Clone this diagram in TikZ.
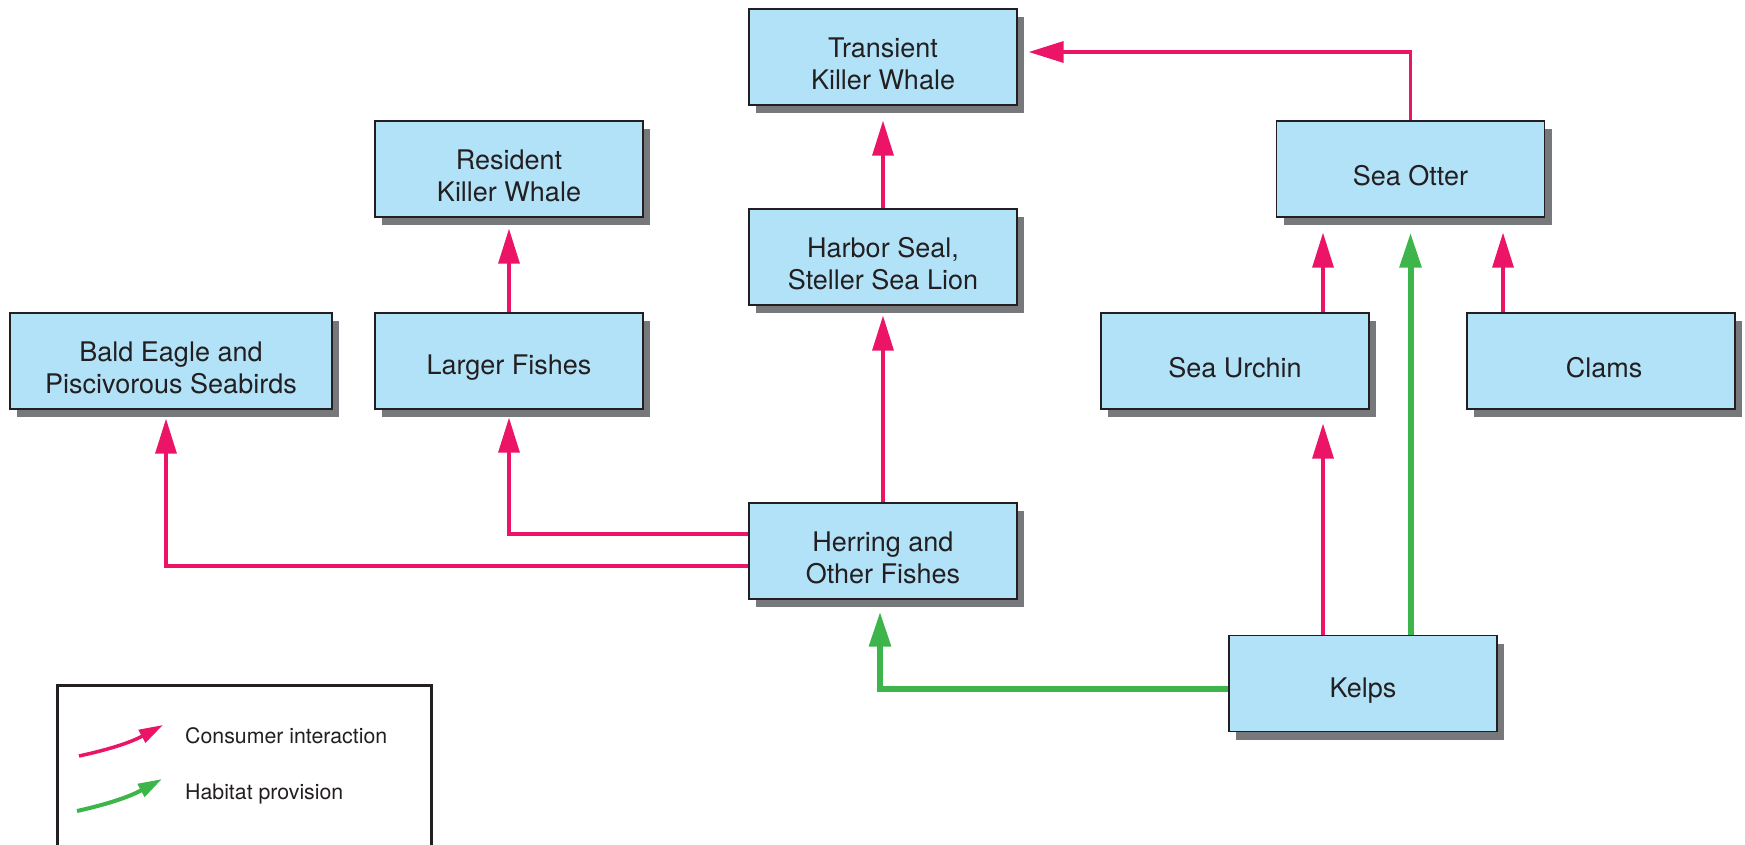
\documentclass[tikz,border=0pt]{standalone}
\usepackage{fontspec}
\setmainfont{TeX Gyre Heros}
\usetikzlibrary{arrows.meta,shadows,calc}

\definecolor{boxfill}{HTML}{B2E2F8}
\definecolor{inkline}{HTML}{231F20}
\definecolor{shadowgray}{HTML}{77787B}
\definecolor{consumer}{HTML}{EC1467}
\definecolor{habitat}{HTML}{3DB54A}

\begin{document}
\begin{tikzpicture}[x=1pt,y=-1pt,
  box/.style={draw=inkline, line width=1.3pt, fill=boxfill,
    minimum width=268pt, minimum height=96pt, inner sep=0pt,
    general shadow={shadow xshift=7pt, shadow yshift=-8pt, fill=shadowgray}},
  boxtext/.style={align=center, text=inkline, yshift=-7pt,
    font=\fontsize{27pt}{32pt}\selectfont},
  cons/.style={draw=consumer, line width=3.3pt,
    -{Triangle[length=35pt,width=21pt]}},
  habit/.style={draw=habitat, line width=6pt,
    -{Triangle[length=35pt,width=21pt]}},
  legtext/.style={anchor=base west, inner sep=0pt, text=inkline,
    font=\fontsize{21.3pt}{25pt}\selectfont},
  legtip/.style={-{Triangle[length=24pt,width=14pt]}}
]
\useasboundingbox (0,0) rectangle (1745,845);

% species boxes
\node[box, label={[boxtext, name=tkwt]center:{Transient\\Killer Whale}}] (tkw) at (883,57) {};
\node[box, label={[boxtext, name=sot]center:{Sea Otter}}] (so) at (1410.5,169) {};
\node[box, label={[boxtext, name=rkwt]center:{Resident\\Killer Whale}}] (rkw) at (509,169) {};
\node[box, label={[boxtext, name=hst]center:{Harbor Seal,\\Steller Sea Lion}}] (hs) at (883,257) {};
\node[box, minimum width=322pt, label={[boxtext, name=bet]center:{Bald Eagle and\\Piscivorous Seabirds}}] (be) at (171,361) {};
\node[box, label={[boxtext, name=lft]center:{Larger Fishes}}] (lf) at (509,361) {};
\node[box, label={[boxtext, name=sut]center:{Sea Urchin}}] (su) at (1235,361) {};
\node[box, label={[boxtext, xshift=3pt, name=clt]center:{Clams}}] (cl) at (1601,361) {};
\node[box, label={[boxtext, name=hft]center:{Herring and\\Other Fishes}}] (hf) at (883,551) {};
\node[box, label={[boxtext, name=ket]center:{Kelps}}] (ke) at (1363,683.5) {};

% consumer interactions
\draw[cons, shorten >=11pt] (so.north) |- ([yshift=5pt]tkw.east);
\draw[cons, shorten >=15pt] (hs.north) -- (tkw.south);
\draw[cons, shorten >=11pt] (lf.north) -- (rkw.south);
\draw[cons, shorten >=10pt] (hf.north) -- (hs.south);
\draw[cons, shorten >=8pt] ([yshift=17pt]hf.west) -| (lf.south);
\draw[cons, shorten >=9pt] ([yshift=-15pt]hf.west) -| ([xshift=-5pt]be.south);
\draw[cons, shorten >=15pt] ([xshift=88pt]su.north) -- ([xshift=88pt]su.north |- so.south);
\draw[cons, shorten >=15pt] ([xshift=-98pt]cl.north) -- ([xshift=-98pt]cl.north |- so.south);
\draw[cons, shorten >=14pt] ([xshift=-40pt]ke.north) -- ([xshift=-40pt]ke.north |- su.south);

% habitat provision
\draw[habit, shorten >=15pt] (ke.north -| so.south) -- (so.south);
\draw[habit, shorten >=12pt] ([yshift=-5.5pt]ke.west) -| ([xshift=-3pt]hf.south);

% legend
\node[draw=inkline, line width=2.5pt, minimum width=374pt, minimum height=200pt,
  anchor=north west, inner sep=0pt] (legend) at (56,684) {};
\coordinate (cs) at (79,756);
\coordinate (ce) at (163,725);
\coordinate (hs0) at (77,811);
\coordinate (he) at (162,779);
\draw[consumer, line width=3.5pt, legtip] (cs) to[bend right=8] (ce);
\draw[habitat, line width=4pt, legtip] (hs0) to[bend right=8] (he);
\node[legtext] (lc) at (185,743) {Consumer interaction};
\node[legtext] (lh) at (185,799) {Habitat provision};
\end{tikzpicture}
\end{document}
